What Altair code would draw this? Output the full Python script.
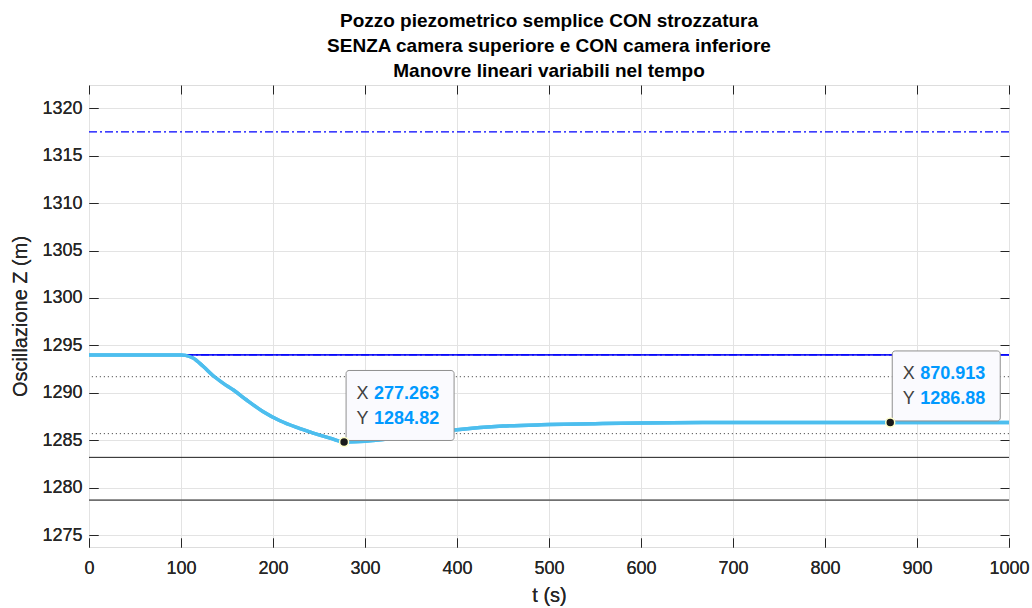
import altair as alt
import pandas as pd

# ---- data ----
t_vals = [0, 50, 100, 105, 113, 124, 135, 146, 157, 171, 189, 207.6, 225.8, 243.8, 262, 277.263,
          300, 330, 360, 400, 450, 500, 550, 600, 700, 800, 870.913, 1000]
z_vals = [1294.0, 1294.0, 1294.0, 1293.95, 1293.67, 1292.8, 1291.8, 1291.0, 1290.3, 1289.27, 1288.04,
          1287.06, 1286.35, 1285.76, 1285.23, 1284.82,
          1284.9, 1285.2, 1285.6, 1286.1, 1286.5, 1286.65, 1286.75, 1286.82, 1286.87, 1286.88, 1286.88, 1286.88]

ref_levels = [1317.5, 1294.0, 1294.0, 1291.7, 1285.7, 1283.2, 1278.7]
ref_kind = ["dashdot", "blue", "dashdot", "dotted", "dotted", "black", "grey"]

tip_t = [277.263, 870.913]
tip_z = [1284.82, 1286.88]
tip_xs = ["277.263", "870.913"]
tip_ys = ["1284.82", "1286.88"]

x_ticks = list(range(0, 1001, 100))
y_ticks = list(range(1275, 1321, 5))

title_lines = ["Pozzo piezometrico semplice CON strozzatura",
               "SENZA camera superiore e CON camera inferiore",
               "Manovre lineari variabili nel tempo"]

FONT = "Liberation Sans"

curve = pd.DataFrame({"t": t_vals, "z": z_vals})
refs = pd.DataFrame({"z": ref_levels, "kind": ref_kind})
tips = pd.DataFrame({"t": tip_t, "z": tip_z, "xs": tip_xs, "ys": tip_ys})

xs = alt.Scale(domain=[0, 1000], nice=False, zero=False)
ys = alt.Scale(domain=[1273.75, 1322.45], nice=False, zero=False)

x_axis = alt.Axis(values=x_ticks, format="d", title="t (s)", tickSize=9, offset=-9, domain=False,
                  labelPadding=12, labelFlush=False, labelOverlap=False, titlePadding=8,
                  grid=True, gridColor="#e3e3e3", tickColor="#262626",
                  labelFontSize=18, titleFontSize=20, titleFontWeight="normal",
                  labelColor="#262626", titleColor="#262626", labelFont=FONT, titleFont=FONT)
y_axis = alt.Axis(values=y_ticks, format="d", title="Oscillazione Z (m)", tickSize=9, offset=-9, domain=False,
                  labelPadding=7, labelFlush=False, labelOverlap=False, titlePadding=11,
                  grid=True, gridColor="#e3e3e3", tickColor="#262626",
                  labelFontSize=18, titleFontSize=20, titleFontWeight="normal",
                  labelColor="#262626", titleColor="#262626", labelFont=FONT, titleFont=FONT)
x_top = alt.Axis(orient="top", values=x_ticks, title=None, labels=False, tickSize=9, offset=-9,
                 domain=False, grid=False, tickColor="#262626")
y_right = alt.Axis(orient="right", values=y_ticks, title=None, labels=False, tickSize=9, offset=-9,
                   domain=False, grid=False, tickColor="#262626")

base_curve = alt.Chart(curve)

main = base_curve.mark_line(color="#4DBEEE", strokeWidth=3.5, interpolate="monotone").encode(
    x=alt.X("t:Q", scale=xs, axis=x_axis),
    y=alt.Y("z:Q", scale=ys, axis=y_axis),
)
frame = base_curve.mark_line(opacity=0).encode(
    x=alt.X("t:Q", scale=xs, axis=x_top),
    y=alt.Y("z:Q", scale=ys, axis=y_right),
)


def ref_layer(kind, color, width, dash=None):
    kw = dict(color=color, strokeWidth=width)
    if dash is not None:
        kw["strokeDash"] = dash
    return alt.Chart(refs).transform_filter(alt.datum.kind == kind).mark_rule(**kw).encode(
        y=alt.Y("z:Q", scale=ys, axis=None)
    )


r_blue = ref_layer("blue", "#1c1cf0", 1.6)
r_dd = ref_layer("dashdot", "#0000ff", 1.3, [8, 3, 2, 3])
r_dot = ref_layer("dotted", "#555555", 1.0, [1.2, 2.8])
r_black = ref_layer("black", "#1a1a1a", 1.0)
r_grey = ref_layer("grey", "#707070", 1.8)

tb = alt.Chart(tips)
enc_xy = dict(x=alt.X("t:Q", scale=xs, axis=None), y=alt.Y("z:Q", scale=ys, axis=None))

box = tb.mark_rect(width=108, height=70, xOffset=56, yOffset=-36.5, cornerRadius=3,
                   fill="#fafafe", stroke="#8f8f8f", strokeWidth=1).encode(**enc_xy)
dots = tb.mark_point(filled=True, size=80, color="#1a1a1a", stroke="#ffffc8", strokeWidth=1.5,
                     opacity=1).encode(**enc_xy)
lab_x = tb.mark_text(text="X", align="left", baseline="alphabetic", dx=12.5, dy=-43,
                     fontSize=18, font=FONT, color="#404040").encode(**enc_xy)
lab_y = tb.mark_text(text="Y", align="left", baseline="alphabetic", dx=12.5, dy=-18,
                     fontSize=18, font=FONT, color="#404040").encode(**enc_xy)
num_x = tb.mark_text(align="left", baseline="alphabetic", dx=30, dy=-43, fontSize=18,
                     fontWeight="bold", font=FONT, color="#0099ff").encode(text="xs:N", **enc_xy)
num_y = tb.mark_text(align="left", baseline="alphabetic", dx=30, dy=-18, fontSize=18,
                     fontWeight="bold", font=FONT, color="#0099ff").encode(text="ys:N", **enc_xy)

chart = alt.layer(
    main, frame, r_grey, r_black, r_dot, r_blue, r_dd, main, box, dots, lab_x, lab_y, num_x, num_y
).resolve_axis(x="independent", y="independent").properties(
    width=920, height=462,
    autosize=alt.AutoSizeParams(type="none"),
    padding={"left": 89, "top": 85, "right": 23, "bottom": 61},
    title=alt.TitleParams(text=title_lines, fontSize=19, fontWeight="bold", font=FONT,
                          lineHeight=25, anchor="middle", offset=4, color="black"),
).configure_view(stroke="#262626", strokeWidth=1).configure(background="white")

chart.save("out.html", embed_options={"renderer": "svg", "actions": False})
